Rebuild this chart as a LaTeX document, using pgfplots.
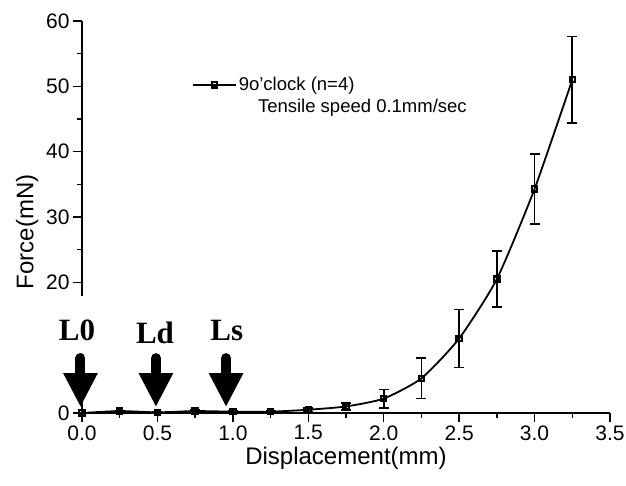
\documentclass[border=0pt]{standalone}
\usepackage{fontspec}
\setmainfont{Liberation Sans}
\newfontfamily\serifb{Liberation Serif}
\usepackage{pgfplots}
\pgfplotsset{compat=1.18}
\usetikzlibrary{arrows.meta}
\begin{document}
\begin{tikzpicture}
\begin{axis}[
  at={(0,0)}, anchor=south west,
  scale only axis, width=528pt, height=392pt,
  xmin=0, xmax=3.5, ymin=0, ymax=60,
  axis lines=left, axis line style={-, line width=1.8pt},
  clip=false,
  xtick={0,0.5,...,3.5}, minor xtick={0.25,0.75,...,3.25},
  ytick={0,10,...,60}, minor ytick={5,15,...,55},
  yticklabels={0,,20,30,40,50,60},
  tick align=outside,
  major tick length=9pt, minor tick length=5pt,
  every tick/.style={black, line width=1.5pt},
  xticklabel style={/pgf/number format/.cd, fixed, fixed zerofill, precision=1},
  /pgf/number format/assume math mode=true,
  tick label style={font=\fontsize{21}{24}\selectfont},
  label style={font=\fontsize{24}{28}\selectfont},
  xlabel={Displacement(mm)},
  ylabel={Force(mN)},
  xlabel style={at={(axis description cs:0.5,-0.115)}, anchor=center},
  ylabel style={at={(axis description cs:-0.104,0.462)}, anchor=center},
  legend style={draw=none, fill=none, at={(rel axis cs:0.208,0.837)}, anchor=west,
    inner sep=0pt, font=\fontsize{18.5}{21}\selectfont},
  legend image code/.code={\draw[mark repeat=2, mark phase=2] plot coordinates {(0pt,0pt) (21.5pt,0pt) (43pt,0pt)};},
]
\addplot[black, line width=1.8pt, smooth, tension=0.35,
  mark=square, mark size=2.6pt, mark options={line width=2.2pt, solid},
  error bars/.cd, y dir=both, y explicit,
  error bar style={line width=1.6pt},
  error mark options={rotate=90, mark size=5pt, line width=1.6pt}]
  table[x=x, y=y, y error=e] {
x y e
0 0 0
0.25 0.3 0.1
0.5 0.1 0.1
0.75 0.3 0.15
1.0 0.2 0.1
1.25 0.2 0.15
1.5 0.5 0.3
1.75 1.0 0.5
2.0 2.2 1.4
2.25 5.3 3.1
2.5 11.4 4.45
2.75 20.5 4.25
3.0 34.3 5.35
3.25 51.0 6.6
};
\addlegendentry{9o'clock (n=4)}
\coordinate (wb1) at (axis cs:-0.27,9.0);
\coordinate (wb2) at (axis cs:1.25,17.9);
\coordinate (a0s) at (axis cs:-0.01,8.4);
\coordinate (a0e) at (axis cs:-0.01,0.9);
\coordinate (ads) at (axis cs:0.49,8.4);
\coordinate (ade) at (axis cs:0.49,0.9);
\coordinate (ass) at (axis cs:0.955,8.4);
\coordinate (ase) at (axis cs:0.955,0.9);
\coordinate (l0) at (axis cs:-0.033,12.6);
\coordinate (ld) at (axis cs:0.484,12.3);
\coordinate (ls) at (axis cs:0.96,12.6);
\node[anchor=west, font=\fontsize{18.5}{21}\selectfont, inner sep=0pt] at (rel axis cs:0.333,0.778) {Tensile speed 0.1mm/sec};
\end{axis}
\fill[white] (wb1) rectangle (wb2);
\foreach \s/\e in {a0s/a0e, ads/ade, ass/ase}{
  \draw[line width=10pt, line cap=round, -{Triangle[width=32pt, length=34pt]}] (\s) -- (\e);
}
\node[font=\serifb\bfseries\fontsize{31}{34}\selectfont] at (l0) {L0};
\node[font=\serifb\bfseries\fontsize{31}{34}\selectfont] at (ld) {Ld};
\node[font=\serifb\bfseries\fontsize{31}{34}\selectfont] at (ls) {Ls};
\pgfresetboundingbox
\path (-82pt,-73pt) rectangle (544pt,413pt);
\end{tikzpicture}
\end{document}
